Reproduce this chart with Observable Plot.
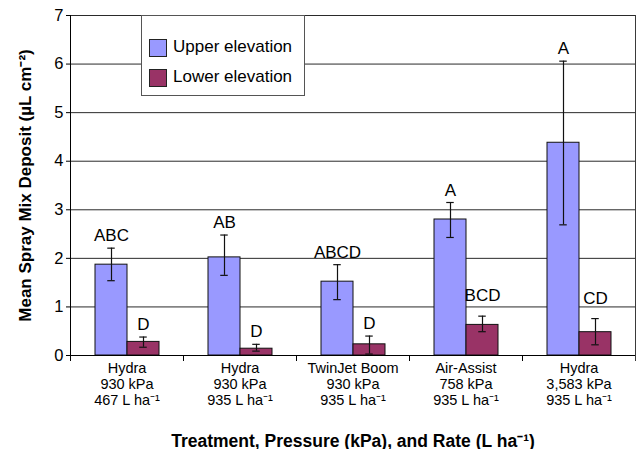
<!DOCTYPE html>
<html>
<head>
<meta charset="utf-8">
<script src="https://cdn.jsdelivr.net/npm/d3@7"></script>
<script src="https://cdn.jsdelivr.net/npm/@observablehq/plot@0.6"></script>
<style>
  body { margin: 0; background: #fff; font-family: "Liberation Sans", Arial, sans-serif; }
  #wrap { position: relative; width: 639px; height: 449px; }
  .legend { position: absolute; left: 141px; top: 15px; width: 164px; height: 81px;
            border: 1px solid #555; background: #fff; box-sizing: border-box; font-size: 17px; color: #000; }
  .legend .sw { position: absolute; left: 7px; width: 18px; height: 18px; box-sizing: border-box; border: 1px solid #222; }
  .legend .lb { position: absolute; left: 31px; line-height: 18px; white-space: nowrap; }
  g[aria-label="y-axis label"] text { font-weight: bold; font-size: 17px; }
  g[aria-label="fx-axis label"] text { font-weight: bold; font-size: 17.5px; }
</style>
</head>
<body>
<div id="wrap"></div>
<script>
// ---- data ----
const treatments = [
  "Hydra\n930 kPa\n467 L ha⁻¹",
  "Hydra\n930 kPa\n935 L ha⁻¹",
  "TwinJet Boom\n930 kPa\n935 L ha⁻¹",
  "Air-Assist\n758 kPa\n935 L ha⁻¹",
  "Hydra\n3,583 kPa\n935 L ha⁻¹"
];
const series = ["Upper elevation", "Lower elevation"];
const upperMean = [1.87, 2.02, 1.52, 2.80, 4.38];
const upperLow  = [1.54, 1.65, 1.15, 2.43, 2.69];
const upperHigh = [2.21, 2.48, 1.87, 3.15, 6.06];
const lowerMean = [0.28, 0.14, 0.23, 0.63, 0.48];
const lowerLow  = [0.17, 0.09, 0.03, 0.49, 0.22];
const lowerHigh = [0.38, 0.23, 0.40, 0.81, 0.76];
const upperLetters = ["ABC", "AB", "ABCD", "A", "A"];
const lowerLetters = ["D", "D", "D", "BCD", "CD"];
const yTicks = [0, 1, 2, 3, 4, 5, 6, 7];
const colors = ["#9999FF", "#993366"];
const yTitle = "Mean Spray Mix Deposit (µL cm⁻²)";
const xTitle = "Treatment, Pressure (kPa), and Rate (L ha⁻¹)";

// ---- table ----
const rows = treatments.flatMap((t, i) => [
  {t, s: series[0], v: upperMean[i], lo: upperLow[i], hi: upperHigh[i], letter: upperLetters[i]},
  {t, s: series[1], v: lowerMean[i], lo: lowerLow[i], hi: lowerHigh[i], letter: lowerLetters[i]}
]);
const raised = d => d.s === series[1] && d.letter.length > 1;

const ink = "#111";
const chart = Plot.plot({
  width: 639, height: 449,
  marginLeft: 69, marginRight: 4, marginTop: 15, marginBottom: 94,
  style: {fontFamily: "Liberation Sans, Arial, sans-serif", background: "#fff", color: "#000"},
  fx: {domain: treatments, padding: 0, label: null},
  x: {domain: series, paddingInner: 0, paddingOuter: 0.74, axis: null},
  y: {domain: [0, 7]},
  color: {domain: series, range: colors},
  marks: [
    Plot.gridY(yTicks, {stroke: "#2a2a2a", strokeOpacity: 1}),
    Plot.frame({anchor: "right", facetAnchor: "right", stroke: "#3a3a3a", insetBottom: -5}),
    Plot.frame({anchor: "left", stroke: "#000", insetTop: 340, insetBottom: -5}),
    Plot.barY(rows, {fx: "t", x: "s", y: "v", fill: "s", stroke: ink, strokeWidth: 1}),
    Plot.ruleX(rows, {fx: "t", x: "s", y1: "lo", y2: "hi", stroke: ink, strokeWidth: 1.2}),
    Plot.tickY(rows, {fx: "t", x: "s", y: "lo", stroke: ink, strokeWidth: 1.2, insetLeft: 12.25, insetRight: 12.25}),
    Plot.tickY(rows, {fx: "t", x: "s", y: "hi", stroke: ink, strokeWidth: 1.2, insetLeft: 12.25, insetRight: 12.25}),
    Plot.text(rows, {filter: d => !raised(d), fx: "t", x: "s", y: "hi", text: "letter", lineAnchor: "bottom", dy: -7, fontSize: 17, fill: "#000"}),
    Plot.text(rows, {filter: raised, fx: "t", x: "s", y: "hi", text: "letter", lineAnchor: "bottom", dy: -15, fontSize: 17, fill: "#000"}),
    Plot.ruleY([0], {stroke: "#000"}),
    Plot.frame({anchor: "left", facetAnchor: "left", stroke: "#000"}),
    Plot.axisY(yTicks, {tickSize: 4, tickPadding: 3, fontSize: 16.5, label: yTitle, labelAnchor: "center", labelOffset: 52, labelArrow: "none"}),
    Plot.axisFx({anchor: "bottom", tickSize: 0, tickPadding: 6, fontSize: 14.5, lineHeight: 1.1,
                 label: xTitle, labelAnchor: "center", labelOffset: 91})
  ]
});

const wrap = document.getElementById("wrap");
wrap.appendChild(chart);

// legend (inside plot area, as in the reference)
const legend = document.createElement("div");
legend.className = "legend";
series.forEach((s, i) => {
  const sw = document.createElement("span");
  sw.className = "sw";
  sw.style.background = colors[i];
  sw.style.top = (23 + i * 30) + "px";
  const lb = document.createElement("span");
  lb.className = "lb";
  lb.style.top = (22 + i * 30) + "px";
  lb.textContent = s;
  legend.appendChild(sw);
  legend.appendChild(lb);
});
wrap.appendChild(legend);
</script>
</body>
</html>
